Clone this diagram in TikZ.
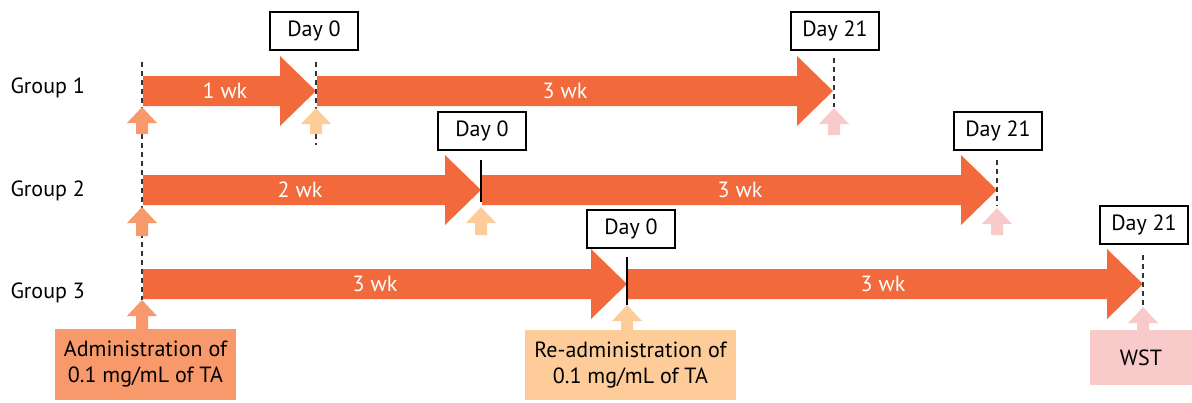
\documentclass[tikz,border=0pt]{standalone}
\usepackage{fontspec}
\setmainfont{PT Sans}
\definecolor{barorange}{RGB}{242,106,59}
\definecolor{salmon}{RGB}{247,153,107}
\definecolor{peach}{RGB}{254,204,153}
\definecolor{pinkish}{RGB}{249,202,202}
\newcommand{\FatArr}[4]{% x1, xtip, yc, name
  \fill[barorange] (#1,#3-15) -- (#2-36,#3-15) -- (#2-36,#3-35) -- (#2,#3) -- (#2-36,#3+35) -- (#2-36,#3+15) -- (#1,#3+15) -- cycle;
  \coordinate (#4) at (#2,#3);}
\newcommand{\UpArr}[4]{% color, x, ytip, ybottom
  \fill[#1] (#2,#3) -- (#2+15,#3+16) -- (#2+6,#3+16) -- (#2+6,#4) -- (#2-6,#4) -- (#2-6,#3+16) -- (#2-15,#3+16) -- cycle;}
\begin{document}
\begin{tikzpicture}[x=1pt,y=-1pt,
  txt/.style={font=\fontsize{22}{26}\selectfont},
  daybox/.style={txt,draw=black,line width=1.1pt,fill=white,minimum width=88pt,minimum height=38pt,inner sep=0pt},
  grp/.style={txt,anchor=west},
  wk/.style={txt,text=white},
  notebox/.style={txt,inner sep=0pt,align=center},
  vdash/.style={draw=black!80,line width=1.2pt,dash pattern=on 5pt off 4pt},
  vsolid/.style={draw=black,line width=1.2pt}]
\useasboundingbox (0,0) rectangle (1192,402);
% group labels
\node[grp] (g1) at (7,88) {Group 1};
\node[grp] (g2) at (7,191) {Group 2};
\node[grp] (g3) at (7,293) {Group 3};
% timeline bars
\FatArr{143}{316}{91}{t1a}
\FatArr{317}{833}{91}{t1b}
\FatArr{143}{481}{190}{t2a}
\FatArr{482}{997}{190}{t2b}
\FatArr{143}{627}{284}{t3a}
\FatArr{628}{1143}{284}{t3b}
% week labels
\node[wk] (w1a) at (225,91) {1 wk};
\node[wk] (w1b) at (565,91) {3 wk};
\node[wk] (w2a) at (300,190) {2 wk};
\node[wk] (w2b) at (740,190) {3 wk};
\node[wk] (w3a) at (375,284) {3 wk};
\node[wk] (w3b) at (883,284) {3 wk};
% day boxes
\node[daybox] (d10) at (314,31) {Day 0};
\node[daybox] (d121) at (835,31) {Day 21};
\node[daybox] (d20) at (482,131) {Day 0};
\node[daybox] (d221) at (998,131) {Day 21};
\node[daybox] (d30) at (631,229) {Day 0};
\node[daybox] (d321) at (1144,225) {Day 21};
% note boxes
\node[notebox,fill=salmon,minimum width=181pt,minimum height=71pt] (adm) at (145.5,364.5) {Administration of\\0.1 mg/mL of TA};
\node[notebox,fill=peach,minimum width=211pt,minimum height=70pt] (readm) at (630.5,365) {Re-administration of\\0.1 mg/mL of TA};
\node[notebox,fill=pinkish,minimum width=102pt,minimum height=55pt] (wst) at (1141,357.5) {WST};
% vertical markers
\draw[vdash] (142,62) -- (142,300);
\draw[vdash] (316,62) -- (316,145);
\draw[vdash] (834,58) -- (834,107);
\draw[vsolid] (481,160) -- (481,202);
\draw[vdash] (997,160) -- (997,206);
\draw[vsolid] (627,257) -- (627,305);
\draw[vdash] (1143,255) -- (1143,307);
% up arrows
\UpArr{salmon}{142}{107}{134}
\UpArr{peach}{316}{108}{134}
\UpArr{pinkish}{834}{108}{135}
\UpArr{salmon}{142}{207}{236}
\UpArr{peach}{481}{207}{235}
\UpArr{pinkish}{997}{208}{235}
\UpArr{salmon}{142}{300}{329.5}
\UpArr{peach}{627}{305}{330.5}
\UpArr{pinkish}{1143}{307}{330.5}
\end{tikzpicture}
\end{document}
